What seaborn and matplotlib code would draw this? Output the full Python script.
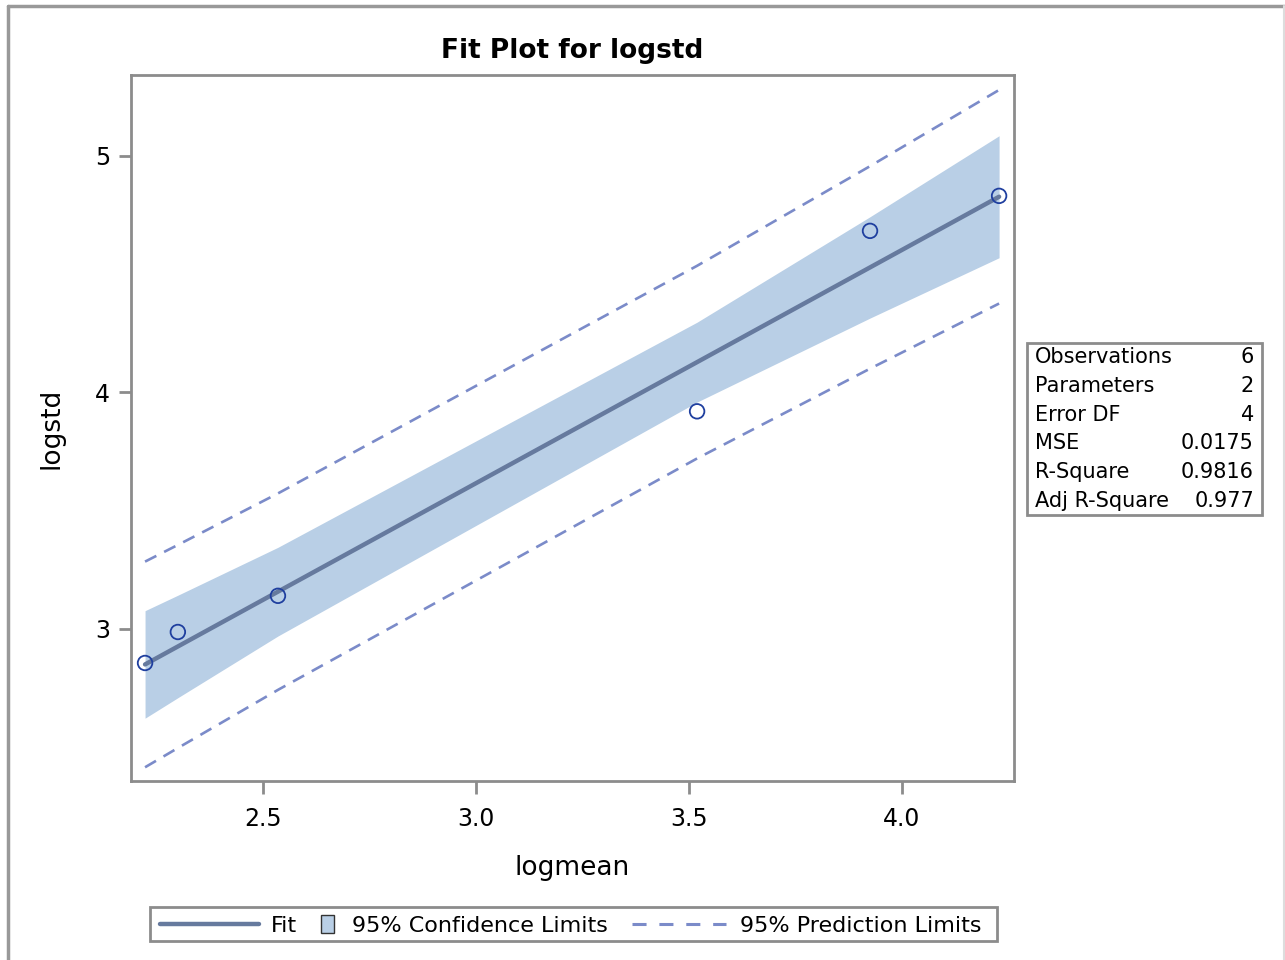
import numpy as np
import pandas as pd
import matplotlib
matplotlib.use("Agg")
import matplotlib.pyplot as plt
from matplotlib.lines import Line2D
from matplotlib.patches import Rectangle
import seaborn as sns

# observed values
logmean = [2.223, 2.300, 2.535, 3.519, 3.925, 4.228]
logstd = [2.856, 2.987, 3.140, 3.920, 4.683, 4.831]

# fit statistics table
stat_names = ["Observations", "Parameters", "Error DF", "MSE", "R-Square", "Adj R-Square"]
stat_values = ["6", "2", "4", "0.0175", "0.9816", "0.977"]

x_ticks = [2.5, 3.0, 3.5, 4.0]
y_ticks = [3, 4, 5]

legend_labels = ["Fit", "95% Confidence Limits", "95% Prediction Limits"]

T_975_DF4 = 2.7764  # two-sided 95% t quantile, 4 df

sns.set_style("white")
plt.rcParams["font.family"] = ["DejaVu Sans"]
plt.rcParams["text.color"] = "black"
plt.rcParams["axes.labelcolor"] = "black"
plt.rcParams["xtick.color"] = "black"
plt.rcParams["ytick.color"] = "black"

df = pd.DataFrame({"logmean": logmean, "logstd": logstd}).sort_values("logmean")
x = df["logmean"].to_numpy()
y = df["logstd"].to_numpy()
n = len(x)
slope, intercept = np.polyfit(x, y, 1)
pred = intercept + slope * x
mse = np.sum((y - pred) ** 2) / (n - 2)
sxx = np.sum((x - x.mean()) ** 2)
h = 1.0 / n + (x - x.mean()) ** 2 / sxx
ci = T_975_DF4 * np.sqrt(mse * h)
pi = T_975_DF4 * np.sqrt(mse * (1 + h))
df["fit"] = pred

fill_col = "#B9CFE6"
fit_col = "#667A9E"
pred_col = "#7B8BC9"
pt_col = "#1F3F9F"
frame_col = "#8C8C8C"
DASH = (4.8, 3.3)

W, H = 1285, 960
fig = plt.figure(figsize=(W / 100, H / 100), dpi=100)
ax = fig.add_axes([131 / W, 1 - 781 / H, (1014 - 131) / W, (781 - 75) / H])

ax.fill_between(x, pred - ci, pred + ci, color=fill_col, linewidth=0, zorder=1)
ax.plot(x, pred + pi, color=pred_col, lw=1.9, dashes=DASH, zorder=2)
ax.plot(x, pred - pi, color=pred_col, lw=1.9, dashes=DASH, zorder=2)
sns.lineplot(data=df, x="logmean", y="fit", color=fit_col, lw=3.2, ax=ax, zorder=3)
sns.scatterplot(data=df, x="logmean", y="logstd", ax=ax, s=110, marker="o",
                facecolors="none", edgecolor=pt_col, linewidth=1.3, zorder=4)

ax.set_xlim(2.19, 4.263)
ax.set_ylim(2.357, 5.342)
ax.set_xticks(x_ticks)
ax.set_xticklabels([f"{v:.1f}" for v in x_ticks])
ax.set_yticks(y_ticks)
ax.set_yticklabels([str(v) for v in y_ticks])
ax.tick_params(axis="both", which="major", direction="out", length=9, width=2,
               color=frame_col, labelcolor="black", labelsize=17, pad=6,
               bottom=True, left=True)
ax.tick_params(axis="x", pad=10)
for sp in ax.spines.values():
    sp.set_color(frame_col)
    sp.set_linewidth(2)

ax.set_xlabel("logmean", fontsize=19, labelpad=17, color="black")
ax.set_ylabel("logstd", fontsize=19, labelpad=22, color="black")
ax.set_title("Fit Plot for logstd", fontsize=19, fontweight="bold", pad=12, color="black")


def fx(px):
    return px / W


def fy(py):
    return 1 - py / H


# fit statistics inset
bx0, by0, bx1, by1 = 1027, 343, 1262, 515
fig.add_artist(Rectangle((fx(bx0), fy(by1)), (bx1 - bx0) / W, (by1 - by0) / H,
                         transform=fig.transFigure, facecolor="white",
                         edgecolor=frame_col, linewidth=2))
row_h = (by1 - by0) / len(stat_names)
for i, (nm, val) in enumerate(zip(stat_names, stat_values)):
    yc = fy(by0 + row_h * (i + 0.5))
    fig.text(fx(1035), yc, nm, fontsize=15, ha="left", va="center")
    fig.text(fx(1254), yc, val, fontsize=15, ha="right", va="center")

# legend panel
ly = 924
fig.add_artist(Rectangle((fx(150), fy(941)), (997 - 150) / W, (941 - 907) / H,
                         transform=fig.transFigure, facecolor="white",
                         edgecolor=frame_col, linewidth=2))
fig.add_artist(Line2D([fx(160), fx(259)], [fy(ly), fy(ly)], color=fit_col, lw=3.2,
                      transform=fig.transFigure))
fig.text(fx(271), fy(ly), legend_labels[0], fontsize=16, ha="left", va="center_baseline")
fig.add_artist(Rectangle((fx(321), fy(933)), 13 / W, 18 / H, transform=fig.transFigure,
                         facecolor=fill_col, edgecolor="#333333", linewidth=1))
fig.text(fx(352), fy(ly), legend_labels[1], fontsize=16, ha="left", va="center_baseline")
fig.add_artist(Line2D([fx(632), fx(726)], [fy(ly), fy(ly)], color=pred_col, lw=2.2,
                      dashes=(4.6, 4.2), transform=fig.transFigure))
fig.text(fx(740), fy(ly), legend_labels[2], fontsize=16, ha="left", va="center_baseline")

# outer frame
fig.add_artist(Line2D([fx(8), fx(8)], [0, fy(6)], color="#999999", lw=2.5,
                      transform=fig.transFigure))
fig.add_artist(Line2D([fx(8), 1], [fy(6), fy(6)], color="#999999", lw=2.5,
                      transform=fig.transFigure))
fig.add_artist(Line2D([fx(1284), fx(1284)], [0, fy(6)], color="#DDDDDD", lw=1.5,
                      transform=fig.transFigure))

fig.savefig("out.png", dpi=100)
